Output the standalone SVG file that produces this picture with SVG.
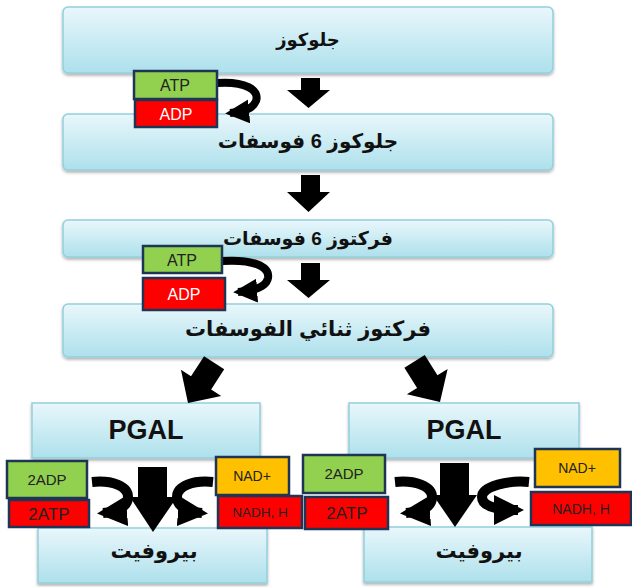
<svg xmlns="http://www.w3.org/2000/svg" width="632" height="587" viewBox="0 0 632 587">
<defs>
<linearGradient id="bg" x1="0" y1="0" x2="0" y2="1">
<stop offset="0" stop-color="#e9f7fb"/>
<stop offset="1" stop-color="#ade0ec"/>
</linearGradient>
<filter id="sh" x="-5%" y="-10%" width="110%" height="130%">
<feDropShadow dx="0" dy="2" stdDeviation="1.5" flood-color="#000" flood-opacity="0.3"/>
</filter>
<marker id="ah" viewBox="0 0 10 10" refX="8" refY="5" markerWidth="3" markerHeight="3" orient="auto">
<path d="M0,0 L10,5 L0,10 z" fill="#000"/>
</marker>
</defs>
<style>
.big{fill:url(#bg);stroke:#93cfdd;stroke-width:1.5;filter:url(#sh)}
.t{font-family:"Liberation Sans","DejaVu Sans",sans-serif;font-weight:bold;fill:#111;text-anchor:middle}
.s{font-family:"Liberation Sans","DejaVu Sans",sans-serif;text-anchor:middle;fill:#222}
.w{fill:#fff}
.g{fill:#92d050;stroke:#1f3556;stroke-width:2.5}
.r{fill:#ff0000;stroke:#1f3556;stroke-width:2.5}
.y{fill:#ffc000;stroke:#1f3556;stroke-width:2.5}
.c{fill:none;stroke:#000;marker-end:url(#ah)}
</style>
<rect width="632" height="587" fill="#fff"/>

<g id="glucose"><rect class="big" x="63" y="7" width="490" height="66" rx="5"/><text class="t" x="308" y="46" font-size="18">جلوكوز</text></g>
<g id="g6p"><rect class="big" x="63" y="114" width="490" height="56" rx="5"/><text class="t" x="308" y="148" font-size="20">جلوكوز 6 فوسفات</text></g>
<g id="f6p"><rect class="big" x="63" y="220" width="490" height="37" rx="5"/><text class="t" x="308" y="245" font-size="19">فركتوز 6 فوسفات</text></g>
<g id="fbp"><rect class="big" x="63" y="304" width="490" height="53" rx="5"/><text class="t" x="308" y="336" font-size="21">فركتوز ثنائي الفوسفات</text></g>
<g id="pgal1"><rect class="big" x="32" y="403" width="228" height="55"/><text class="t" x="146" y="439" font-size="27">PGAL</text></g>
<g id="pgal2"><rect class="big" x="349" y="403" width="230" height="55"/><text class="t" x="464" y="439" font-size="27">PGAL</text></g>
<g id="pyr1"><rect class="big" x="38" y="528" width="229" height="55"/><text class="t" x="154" y="558" font-size="21">بيروفيت</text></g>
<g id="pyr2"><rect class="big" x="364" y="527" width="228" height="55"/><text class="t" x="479" y="558" font-size="21">بيروفيت</text></g>

<g id="connectors" fill="#000">
<polygon points="301,78 320,78 320,90 330,90 308.5,108 287,90 301,90"/>
<polygon points="301,175 320,175 320,192 330,192 308.5,212 287,192 301,192"/>
<polygon points="301,263 320,263 320,280 330,280 308.5,298 287,280 301,280"/>
<polygon points="138,467 167,467 167,497 177,497 153,532 130,497 138,497"/>
<polygon points="440,463 469,463 469,495 477,495 455,527 433,495 440,495"/>
<polygon transform="translate(188,403) rotate(33)" points="-12,-48 12,-48 12,-24 24,-24 0,0 -24,-24 -12,-24"/>
<polygon transform="translate(440,402) rotate(-32)" points="-12,-48 12,-48 12,-24 24,-24 0,0 -24,-24 -12,-24"/>
<path class="c" stroke-width="8" d="M217,83 C245,81 260,90 256,101 C252,110 242,112 230,113"/>
<path class="c" stroke-width="8" d="M222,261 C252,259 270,266 268,278 C266,288 252,291 238,292"/>
<path class="c" stroke-width="10" d="M92,482 C112,480 128,486 128,497 C128,508 115,512 103,513"/>
<path class="c" stroke-width="10" d="M213,482 C193,480 177,486 177,497 C177,508 190,512 202,513"/>
<path class="c" stroke-width="10" d="M395,482 C415,480 432,486 432,497 C432,508 419,512 406,513"/>
<path class="c" stroke-width="10" d="M529,482 C509,480 482,486 482,497 C482,507 499,510 518,510"/>
</g>

<g id="atp1"><rect class="g" x="134" y="71" width="83" height="28"/><text class="s" x="175" y="91" font-size="16">ATP</text></g>
<g id="adp1"><rect class="r" x="135" y="100" width="82" height="27"/><text class="s w" x="176" y="120" font-size="16">ADP</text></g>
<g id="atp2"><rect class="g" x="143" y="246" width="79" height="27"/><text class="s" x="182" y="266" font-size="16">ATP</text></g>
<g id="adp2"><rect class="r" x="143" y="278" width="82" height="32"/><text class="s w" x="184" y="300" font-size="16">ADP</text></g>
<g id="adp3"><rect class="g" x="7" y="461" width="80" height="37"/><text class="s" x="47" y="485" font-size="15">2ADP</text></g>
<g id="atp3"><rect class="r" x="9" y="500" width="80" height="27"/><text class="s" x="49" y="520" font-size="17">2ATP</text></g>
<g id="nad1"><rect class="y" x="216" y="457" width="73" height="38"/><text class="s" x="252" y="481" font-size="14">NAD+</text></g>
<g id="nadh1"><rect class="r" x="218" y="496" width="84" height="32"/><text class="s" x="260" y="517" font-size="13.5">NADH, H</text></g>
<g id="adp4"><rect class="g" x="303" y="455" width="82" height="38"/><text class="s" x="344" y="479" font-size="15">2ADP</text></g>
<g id="atp4"><rect class="r" x="305" y="497" width="83" height="32"/><text class="s" x="347" y="519" font-size="17">2ATP</text></g>
<g id="nad2"><rect class="y" x="535" y="449" width="85" height="38"/><text class="s" x="577" y="473" font-size="14">NAD+</text></g>
<g id="nadh2"><rect class="r" x="531" y="492" width="100" height="33"/><text class="s" x="581" y="514" font-size="14">NADH, H</text></g>
</svg>
